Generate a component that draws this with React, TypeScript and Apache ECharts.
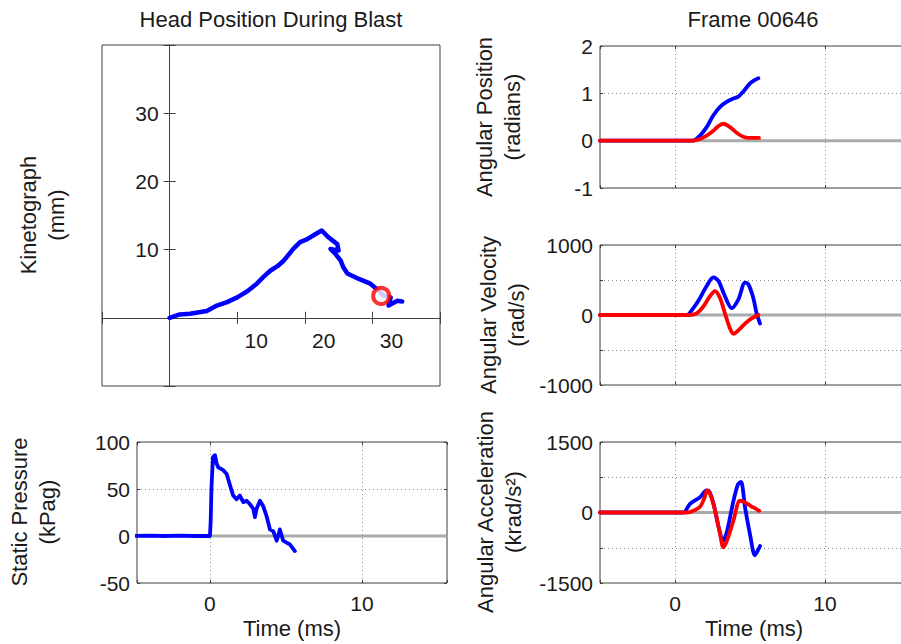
import React, { useEffect, useRef } from 'react';
import * as echarts from 'echarts';

// ---- Kinetograph trajectory (mm) ----
const kinX = [0, 1.5, 3, 5.5, 7, 8.5, 10, 11.5, 12.9, 14, 14.9, 16, 16.9, 18.3, 19.3, 20.3, 21.3, 22.5, 23.5, 24.8, 25.0, 23.8, 24.5, 25.3, 25.7, 26.3, 28.0, 29.7, 30.9, 31.6, 32.7, 32.4, 33.7, 34.4];
const kinY = [0, 0.5, 0.6, 1.0, 1.8, 2.3, 3.0, 3.9, 5.0, 6.1, 6.9, 7.6, 8.4, 10.1, 11.1, 11.5, 12.1, 12.8, 11.8, 10.8, 9.85, 10.1, 9.4, 8.4, 7.4, 6.5, 5.7, 5.0, 4.0, 3.3, 3.0, 1.8, 2.5, 2.4];
const kinMarker = [31.3, 3.2];
const kinTickLabels = [10, 20, 30];

// ---- Static pressure (kPag) vs time (ms) ----
const presT = [-5, -4, -3, -2, -1, 0, 0.05, 0.1, 0.2, 0.33, 0.44, 0.55, 0.88, 1.1, 1.32, 1.53, 1.75, 1.97, 2.19, 2.41, 2.63, 2.85, 2.96, 3.07, 3.29, 3.5, 3.73, 3.95, 4.17, 4.39, 4.5, 4.6, 4.82, 5.04, 5.26, 5.59];
const presV = [0, 0.5, 0, 0.5, 0, 0, 16, 51, 84, 86, 77, 73, 70, 66, 54, 43, 39, 43, 36, 37.5, 34, 29, 20, 29, 37.5, 32, 21, 7, 5, -5, 0.5, 7, -5, -7, -9, -16];
const presTicks = [-50, 0, 50, 100];

// ---- Angular position (radians) ----
const posBlueT = [-5, 0, 1.2, 1.67, 2.11, 2.56, 3.0, 3.44, 3.89, 4.22, 4.56, 5.0, 5.3, 5.56];
const posBlue = [0, 0, 0, 0.107, 0.286, 0.536, 0.714, 0.82, 0.89, 0.93, 1.04, 1.21, 1.28, 1.32];
const posRedT = [-5, 0, 1.2, 1.67, 2.11, 2.56, 2.9, 3.22, 3.67, 4.22, 4.67, 5.22, 5.6];
const posRed = [0, 0, 0, 0.036, 0.107, 0.21, 0.31, 0.357, 0.286, 0.14, 0.07, 0.057, 0.057];
const posTicks = [-1, 0, 1, 2];

// ---- Angular velocity (rad/s) ----
const velBlueT = [-5, 0, 0.78, 1.22, 1.67, 2.11, 2.56, 2.89, 3.33, 3.78, 4.22, 4.67, 4.89, 5.22, 5.44, 5.67];
const velBlue = [0, 0, 0, 98, 244, 415, 537, 488, 268, 98, 220, 463, 439, 244, 24, -122];
const velRedT = [-5, 0, 0.9, 1.44, 1.89, 2.33, 2.67, 3.0, 3.33, 3.67, 3.89, 4.22, 4.67, 5.11, 5.56];
const velRed = [0, 0, 0, 24, 122, 268, 341, 244, 24, -195, -268, -220, -122, -49, 0];
const velTicks = [-1000, 0, 1000];

// ---- Angular acceleration (krad/s^2) ----
const accBlueT = [-5, 0, 0.56, 1.0, 1.67, 2.11, 2.3, 2.6, 2.9, 3.2, 3.45, 3.9, 4.2, 4.4, 4.67, 5.0, 5.33, 5.56, 5.67];
const accBlue = [0, 0, 0, 185, 326, 468, 440, 150, -300, -600, -420, 250, 600, 650, 107, -464, -910, -786, -714];
const accRedT = [-5, 0, 0.8, 1.22, 1.67, 1.95, 2.15, 2.4, 2.7, 3.0, 3.22, 3.44, 3.89, 4.33, 4.67, 5.22, 5.62];
const accRed = [0, 0, 0, 36, 120, 300, 468, 350, 0, -450, -740, -620, -178, 250, 214, 107, 36];
const accTicks = [-1500, 0, 1500];

const FONT = "'Liberation Sans', Arial, Helvetica, sans-serif";
const TXT = '#1a1a1a';
const AX = '#404040';
const DOT = '#8a8a8a';
const ZERO = '#aaaaaa';
const BLUE = '#0000ff';
const RED = '#ff0000';

const zip = (xs: number[], ys: number[]) => xs.map((x, i) => [x, ys[i]]);

const tickText = { fontSize: 21, fontFamily: FONT, color: TXT };

const G0 = { left: 102, top: 45, width: 338, height: 341 };
const grids = [
  G0,
  { left: 137, top: 442, width: 310, height: 141 },
  { left: 600, top: 46, width: 309, height: 142 },
  { left: 600, top: 245, width: 309, height: 140 },
  { left: 600, top: 442, width: 309, height: 141 },
];

function xBox(g: number, min: number, max: number, showLabels: boolean) {
  return [
    {
      gridIndex: g, type: 'value', min, max, splitNumber: 2, minInterval: 10, maxInterval: 10, position: 'bottom',
      axisLine: { show: false, onZero: false },
      axisTick: { show: true, inside: true, length: 3, lineStyle: { color: AX, width: 1 } },
      axisLabel: {
        ...tickText, show: showLabels, margin: 10,
        formatter: (v: number) => (Math.abs(v % 10) < 1e-6 ? String(Math.round(v)) : ''),
      },
      splitLine: { show: true, lineStyle: { color: DOT, width: 1, type: [1, 3] } },
    },
    {
      gridIndex: g, type: 'value', min, max, splitNumber: 2, minInterval: 10, maxInterval: 10, position: 'top',
      axisLine: { show: false, onZero: false },
      axisTick: { show: true, inside: true, length: 3, lineStyle: { color: AX, width: 1 } },
      axisLabel: { show: false },
      splitLine: { show: false },
    },
  ];
}

function yBox(g: number, ticks: number[], interval: number) {
  const min = ticks[0];
  const max = ticks[ticks.length - 1];
  return [
    {
      gridIndex: g, type: 'value', min, max, interval, position: 'left',
      axisLine: { show: false, onZero: false },
      axisTick: { show: true, inside: true, length: 3, lineStyle: { color: AX, width: 1 } },
      axisLabel: { ...tickText, margin: 7, formatter: (v: number) => (ticks.includes(v) ? String(v) : '') },
      splitLine: { show: true, lineStyle: { color: DOT, width: 1, type: [1, 3] } },
    },
    {
      gridIndex: g, type: 'value', min, max, interval, position: 'right',
      axisLine: { show: false, onZero: false },
      axisTick: { show: true, inside: true, length: 3, lineStyle: { color: AX, width: 1 } },
      axisLabel: { show: false },
      splitLine: { show: false },
    },
  ];
}

const KMIN = -10;
const KMAX = 40;
const zeroFrac = (0 - KMIN) / (KMAX - KMIN);

const PX_MIN = -4.8;
const RX_MIN = -5;
const X_MAX = 15.6;

function dataLine(x: number, y: number, data: number[][], color: string, width: number, smooth: number | boolean) {
  return {
    type: 'line', xAxisIndex: x, yAxisIndex: y, data, showSymbol: false, symbol: 'none', smooth,
    lineStyle: { color, width, cap: 'round', join: 'round' }, itemStyle: { color }, silent: true, z: 3,
  };
}
function zeroLine(x: number, y: number, min: number, max: number) {
  return {
    type: 'line', xAxisIndex: x, yAxisIndex: y, data: [[min, 0], [max, 0]], symbol: 'none', silent: true,
    lineStyle: { color: ZERO, width: 3 }, z: 2,
  };
}

function rotText(x: number, y: number, text: string) {
  return {
    type: 'text', x, y, rotation: Math.PI / 2, silent: true,
    style: { text, fontSize: 22, fontFamily: FONT, fill: TXT, align: 'center', verticalAlign: 'middle', lineHeight: 28 },
  };
}
function plainText(x: number, y: number, text: string) {
  return {
    type: 'text', x, y, silent: true,
    style: { text, fontSize: 22, fontFamily: FONT, fill: TXT, align: 'center', verticalAlign: 'middle' },
  };
}

function buildOption() {
  const xAxis: any[] = [
    {
      gridIndex: 0, type: 'value', min: KMIN, max: KMAX, interval: 10, position: 'bottom',
      offset: -G0.height * zeroFrac,
      axisLine: { show: true, onZero: false, lineStyle: { color: AX, width: 1 } },
      axisTick: { show: true, length: 6, lineStyle: { color: AX, width: 1 } },
      axisLabel: { ...tickText, margin: 12, padding: [0, 0, 0, 38], formatter: (v: number) => (kinTickLabels.includes(v) ? String(v) : '') },
      splitLine: { show: false },
    },
    {
      gridIndex: 0, type: 'value', min: KMIN, max: KMAX, interval: 10, position: 'top',
      offset: -G0.height * (1 - zeroFrac),
      axisLine: { show: false, onZero: false },
      axisTick: { show: true, length: 6, lineStyle: { color: AX, width: 1 } },
      axisLabel: { show: false },
      splitLine: { show: false },
    },
    ...xBox(1, PX_MIN, X_MAX, true),
    ...xBox(2, RX_MIN, X_MAX, false),
    ...xBox(3, RX_MIN, X_MAX, false),
    ...xBox(4, RX_MIN, X_MAX, true),
  ];
  const yAxis: any[] = [
    {
      gridIndex: 0, type: 'value', min: KMIN, max: KMAX, interval: 10, position: 'left',
      offset: -G0.width * zeroFrac,
      axisLine: { show: true, onZero: false, lineStyle: { color: AX, width: 1 } },
      axisTick: { show: true, length: 6, lineStyle: { color: AX, width: 1 } },
      axisLabel: { ...tickText, margin: 11, formatter: (v: number) => (kinTickLabels.includes(v) ? String(v) : '') },
      splitLine: { show: false },
    },
    {
      gridIndex: 0, type: 'value', min: KMIN, max: KMAX, interval: 10, position: 'right',
      offset: -G0.width * (1 - zeroFrac),
      axisLine: { show: false, onZero: false },
      axisTick: { show: true, length: 6, lineStyle: { color: AX, width: 1 } },
      axisLabel: { show: false },
      splitLine: { show: false },
    },
    ...yBox(1, presTicks, 50),
    ...yBox(2, posTicks, 1),
    ...yBox(3, velTicks, 500),
    ...yBox(4, accTicks, 750),
  ];

  const series: any[] = [
    dataLine(0, 0, zip(kinX, kinY), BLUE, 4.5, false),
    {
      type: 'scatter', xAxisIndex: 0, yAxisIndex: 0, data: [kinMarker], symbol: 'circle', symbolSize: 16, silent: true, z: 5,
      itemStyle: { color: '#ffffff', borderColor: RED, borderWidth: 4 },
    },
    zeroLine(2, 2, PX_MIN, X_MAX),
    dataLine(2, 2, zip(presT, presV), BLUE, 3.8, false),
    zeroLine(4, 4, RX_MIN, X_MAX),
    dataLine(4, 4, zip(posBlueT, posBlue), BLUE, 3.8, 0.3),
    dataLine(4, 4, zip(posRedT, posRed), RED, 3.8, 0.3),
    zeroLine(6, 6, RX_MIN, X_MAX),
    dataLine(6, 6, zip(velBlueT, velBlue), BLUE, 3.8, 0.3),
    dataLine(6, 6, zip(velRedT, velRed), RED, 3.8, 0.3),
    zeroLine(8, 8, RX_MIN, X_MAX),
    dataLine(8, 8, zip(accBlueT, accBlue), BLUE, 3.8, 0.3),
    dataLine(8, 8, zip(accRedT, accRed), RED, 3.8, 0.3),
  ];

  return {
    animation: false,
    backgroundColor: '#ffffff',
    grid: grids.map((g) => ({
      ...g, show: true, borderColor: AX, borderWidth: 1, backgroundColor: 'transparent',
      containLabel: false, outerBoundsMode: 'none',
    })),
    xAxis,
    yAxis,
    series,
    graphic: [
      plainText(271, 19, 'Head Position During Blast'),
      plainText(753, 19, 'Frame 00646'),
      rotText(42, 215, 'Kinetograph\n(mm)'),
      rotText(33, 512, 'Static Pressure\n(kPag)'),
      rotText(498, 117, 'Angular Position\n(radians)'),
      rotText(502, 315, 'Angular Velocity\n(rad/s)'),
      rotText(499, 512, 'Angular Acceleration\n(krad/s\u00B2)'),
      plainText(292, 628, 'Time (ms)'),
      plainText(754, 628, 'Time (ms)'),
    ],
  };
}

export default function App() {
  const ref = useRef<HTMLDivElement>(null);
  useEffect(() => {
    document.body.style.margin = '0';
    const chart = echarts.init(ref.current as HTMLDivElement, undefined, { renderer: 'svg' });
    chart.setOption(buildOption() as any);
    return () => {
      chart.dispose();
    };
  }, []);
  return <div ref={ref} style={{ width: 901, height: 644, background: '#ffffff' }} />;
}
